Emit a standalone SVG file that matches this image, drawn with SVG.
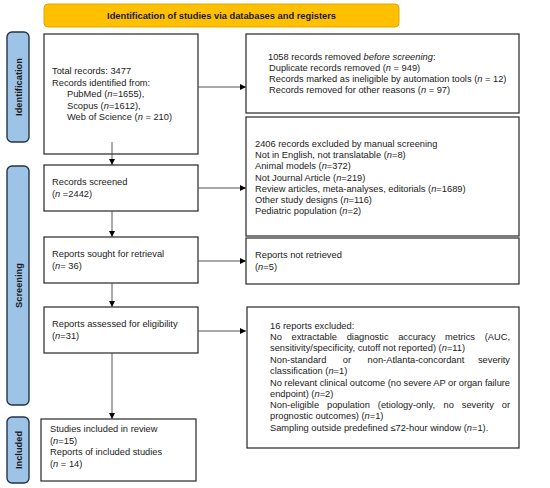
<svg xmlns="http://www.w3.org/2000/svg" width="550" height="488" viewBox="0 0 550 488">
<defs>
<marker id="ah" viewBox="0 0 10 10" refX="10" refY="5" markerWidth="6" markerHeight="6" markerUnits="userSpaceOnUse" orient="auto"><path d="M0,0 L10,5 L0,10 z" fill="#000"/></marker>
<style>
.box{fill:#fff;stroke:#262626;stroke-width:1.2}
.side{fill:#9dc3e6;stroke:#243447;stroke-width:1.4}
.t{font-family:"Liberation Sans",Arial,sans-serif;font-size:9.3px;fill:#1a1a1a}
.e{text-anchor:end}
.b{font-family:"Liberation Sans",Arial,sans-serif;font-size:9.3px;font-weight:bold;fill:#1a1a1a}
.c{stroke:#555;stroke-width:1;fill:none;marker-end:url(#ah)}
</style>
</defs>
<rect width="550" height="488" fill="#fff"/>
<g id="banner">
<rect x="44" y="4" width="355" height="23" rx="4" fill="#ffc000" stroke="#e0a800" stroke-width="1"/>
<text class="b" x="221.5" y="19" text-anchor="middle">Identification of studies via databases and registers</text>
</g>
<g id="side-identification">
<rect class="side" x="7" y="32" width="22" height="110" rx="5"/>
<text class="b" transform="translate(21.5,87) rotate(-90)" text-anchor="middle">Identification</text>
</g>
<g id="side-screening">
<rect class="side" x="7" y="166" width="22" height="239" rx="5"/>
<text class="b" transform="translate(21.5,285.5) rotate(-90)" text-anchor="middle">Screening</text>
</g>
<g id="side-included">
<rect class="side" x="7" y="417" width="22" height="66" rx="5"/>
<text class="b" transform="translate(21.5,450) rotate(-90)" text-anchor="middle">Included</text>
</g>
<g id="records-identified">
<rect class="box" x="44" y="34" width="154" height="120"/>
<text class="t" x="52" y="74">Total records: 3477</text>
<text class="t" x="52" y="85.5">Records identified from:</text>
<text class="t" x="67" y="97">PubMed (<tspan font-style="italic">n</tspan>=1655),</text>
<text class="t" x="67" y="108.5">Scopus (<tspan font-style="italic">n</tspan>=1612),</text>
<text class="t" x="67" y="120">Web of Science (<tspan font-style="italic">n</tspan> = 210)</text>
</g>
<g id="records-removed">
<rect class="box" x="246" y="34" width="273" height="79"/>
<text class="t" x="268" y="60">1058 records removed <tspan font-style="italic">before screening</tspan>:</text>
<text class="t" x="269" y="71">Duplicate records removed (<tspan font-style="italic">n</tspan> = 949)</text>
<text class="t" x="269" y="82">Records marked as ineligible by automation tools (<tspan font-style="italic">n</tspan> = 12)</text>
<text class="t" x="269" y="93">Records removed for other reasons (<tspan font-style="italic">n</tspan> = 97)</text>
</g>
<g id="records-screened">
<rect class="box" x="44" y="165" width="154" height="46"/>
<text class="t" x="52" y="185">Records screened</text>
<text class="t" x="52" y="197">(<tspan font-style="italic">n</tspan> =2442)</text>
</g>
<g id="records-excluded">
<rect class="box" x="246" y="117" width="273" height="119"/>
<text class="t" x="255" y="147">2406 records excluded by manual screening</text>
<text class="t" x="255" y="158">Not in English, not translatable (<tspan font-style="italic">n</tspan>=8)</text>
<text class="t" x="255" y="169">Animal models (<tspan font-style="italic">n</tspan>=372)</text>
<text class="t" x="255" y="180.5">Not Journal Article (<tspan font-style="italic">n</tspan>=219)</text>
<text class="t" x="255" y="192">Review articles, meta-analyses, editorials (<tspan font-style="italic">n</tspan>=1689)</text>
<text class="t" x="255" y="203">Other study designs (<tspan font-style="italic">n</tspan>=116)</text>
<text class="t" x="255" y="214">Pediatric population (<tspan font-style="italic">n</tspan>=2)</text>
</g>
<g id="reports-sought">
<rect class="box" x="44" y="237" width="154" height="46"/>
<text class="t" x="52" y="257">Reports sought for retrieval</text>
<text class="t" x="52" y="268.5">(<tspan font-style="italic">n</tspan>= 36)</text>
</g>
<g id="reports-not-retrieved">
<rect class="box" x="246" y="238" width="273" height="46"/>
<text class="t" x="255" y="258">Reports not retrieved</text>
<text class="t" x="255" y="270">(<tspan font-style="italic">n</tspan>=5)</text>
</g>
<g id="reports-assessed">
<rect class="box" x="44" y="307" width="154" height="46"/>
<text class="t" x="52" y="327">Reports assessed for eligibility</text>
<text class="t" x="52" y="339">(<tspan font-style="italic">n</tspan>=31)</text>
</g>
<g id="reports-excluded">
<rect class="box" x="247" y="307" width="272" height="141"/>
<text class="t" x="270" y="329">16 reports excluded:</text>
<text class="t" x="270" y="340">No</text>
<text class="t" x="291.5" y="340">extractable</text>
<text class="t" x="346.7" y="340">diagnostic</text>
<text class="t" x="398.2" y="340">accuracy</text>
<text class="t" x="445" y="340">metrics</text>
<text class="t e" x="510" y="340">(AUC,</text>
<text class="t" x="270" y="351">sensitivity/specificity, cutoff not reported) (<tspan font-style="italic">n</tspan>=11)</text>
<text class="t" x="270" y="362.5">Non-standard</text>
<text class="t" x="342.8" y="362.5">or</text>
<text class="t" x="367.6" y="362.5">non-Atlanta-concordant</text>
<text class="t e" x="510" y="362.5">severity</text>
<text class="t" x="270" y="374">classification (<tspan font-style="italic">n</tspan>=1)</text>
<text class="t" x="270" y="385.5" textLength="240" lengthAdjust="spacing">No relevant clinical outcome (no severe AP or organ failure</text>
<text class="t" x="270" y="397">endpoint) (<tspan font-style="italic">n</tspan>=2)</text>
<text class="t" x="270" y="408">Non-eligible</text>
<text class="t" x="327" y="408">population</text>
<text class="t" x="377.8" y="408">(etiology-only,</text>
<text class="t" x="443.6" y="408">no</text>
<text class="t" x="461.8" y="408">severity</text>
<text class="t e" x="510" y="408">or</text>
<text class="t" x="270" y="419">prognostic outcomes) (<tspan font-style="italic">n</tspan>=1)</text>
<text class="t" x="270" y="431">Sampling outside predefined ≤72-hour window (<tspan font-style="italic">n</tspan>=1).</text>
</g>
<g id="studies-included">
<rect class="box" x="41" y="419" width="155" height="62"/>
<text class="t" x="50" y="432">Studies included in review</text>
<text class="t" x="50" y="443.5">(<tspan font-style="italic">n</tspan>=15)</text>
<text class="t" x="50" y="455">Reports of included studies</text>
<text class="t" x="50" y="466.5">(<tspan font-style="italic">n</tspan> = 14)</text>
</g>
<g id="connectors">
<line class="c" x1="112" y1="142" x2="112" y2="165"/>
<line class="c" x1="112" y1="211" x2="112" y2="237"/>
<line class="c" x1="112" y1="283" x2="112" y2="307"/>
<line class="c" x1="112" y1="353" x2="112" y2="419"/>
<line class="c" x1="198" y1="87" x2="246" y2="87"/>
<line class="c" x1="198" y1="188" x2="246" y2="188"/>
<line class="c" x1="198" y1="261" x2="246" y2="261"/>
<line class="c" x1="198" y1="331" x2="246" y2="331"/>
</g>
</svg>
